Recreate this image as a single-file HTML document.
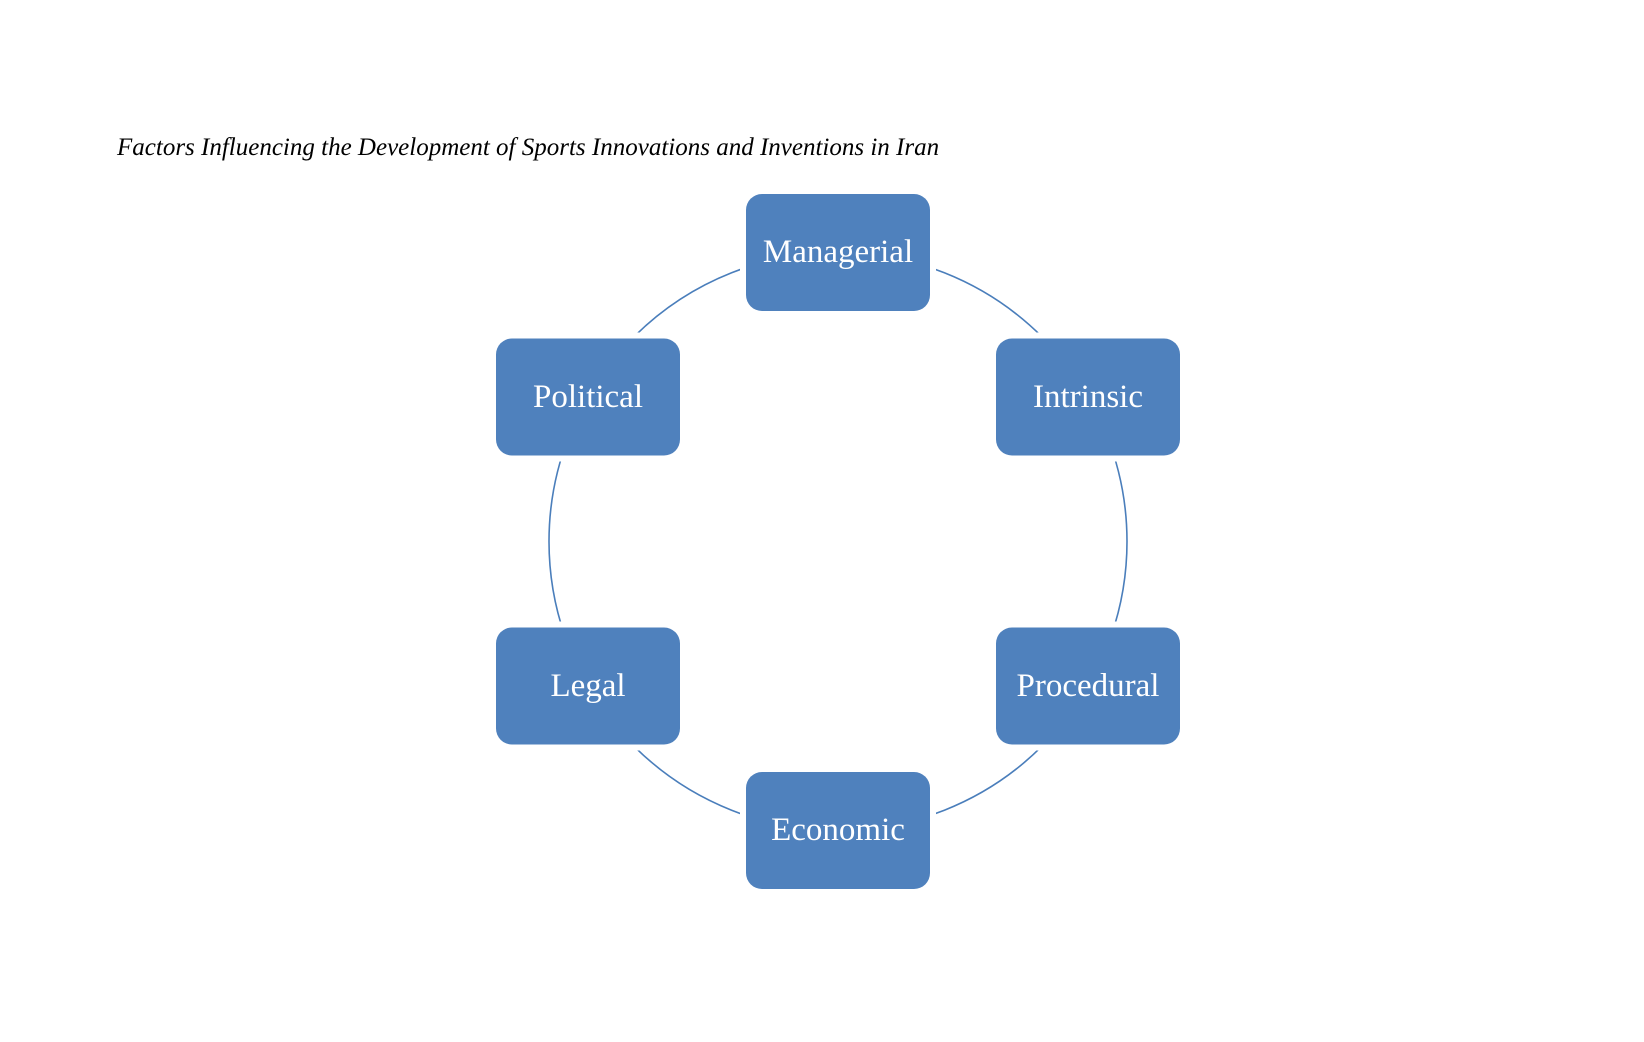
<!DOCTYPE html>
<html><head><meta charset="utf-8"><style>
html,body{margin:0;padding:0;background:#fff;width:1644px;height:1042px;overflow:hidden}
</style></head><body>
<svg width="1644" height="1042" viewBox="0 0 1644 1042" xmlns="http://www.w3.org/2000/svg">
<text x="117" y="155" font-family="Liberation Serif, serif" font-style="italic" font-size="25" fill="#000">Factors Influencing the Development of Sports Innovations and Inventions in Iran</text>
<circle cx="838" cy="541.5" r="289" fill="none" stroke="#4a7ebb" stroke-width="1.6"/>
<g fill="#4f81bd" stroke="#fff" stroke-width="12" paint-order="stroke">
<rect x="746" y="194" width="184" height="117" rx="16"/>
<rect x="496" y="338.5" width="184" height="117" rx="16"/>
<rect x="996" y="338.5" width="184" height="117" rx="16"/>
<rect x="496" y="627.5" width="184" height="117" rx="16"/>
<rect x="996" y="627.5" width="184" height="117" rx="16"/>
<rect x="746" y="772" width="184" height="117" rx="16"/>
</g>
<g fill="#fff" font-family="Liberation Serif, serif" font-size="33" text-anchor="middle">
<text x="838" y="262">Managerial</text>
<text x="588" y="407">Political</text>
<text x="1088" y="407">Intrinsic</text>
<text x="588" y="696">Legal</text>
<text x="1088" y="696">Procedural</text>
<text x="838" y="840">Economic</text>
</g>
</svg>
</body></html>
